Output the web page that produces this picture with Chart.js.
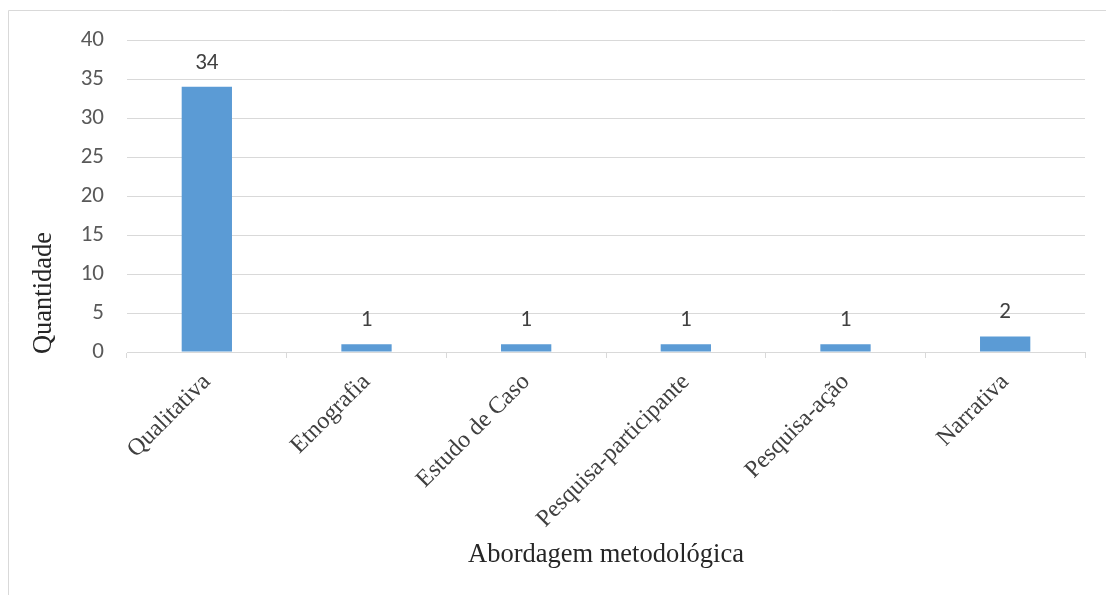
<!DOCTYPE html>
<html>
<head>
<meta charset="utf-8">
<script src="https://cdn.jsdelivr.net/npm/chart.js@4.4.1/dist/chart.umd.min.js"></script>
<style>
  html, body { margin: 0; padding: 0; background: #ffffff; }
  #wrap { position: relative; width: 1106px; height: 595px; }
</style>
</head>
<body>
<div id="wrap"><canvas id="chart" width="1106" height="595"></canvas></div>
<script>
// Categories and counts per methodological approach
const categories = ['Qualitativa', 'Etnografia', 'Estudo de Caso', 'Pesquisa-participante', 'Pesquisa-ação', 'Narrativa'];
const quantidade = [34, 1, 1, 1, 1, 2];
const yTicks = [0, 5, 10, 15, 20, 25, 30, 35, 40];
const yTitle = 'Quantidade';
const xTitle = 'Abordagem metodológica';

const GRID = '#d9d9d9';
const SANS = "Carlito, 'Open Sans', 'Liberation Sans', sans-serif";
const SERIF = "'Liberation Serif', 'Times New Roman', serif";

// Outer frame, value labels and axis titles
const decor = {
  id: 'decor',
  beforeDraw(chart) {
    const ctx = chart.ctx;
    ctx.save();
    ctx.strokeStyle = GRID;
    ctx.lineWidth = 1;
    ctx.beginPath();
    ctx.moveTo(8.5, chart.height);
    ctx.lineTo(8.5, 10.5);
    ctx.lineTo(chart.width, 10.5);
    ctx.stroke();
    ctx.restore();
  },
  afterDatasetsDraw(chart) {
    const ctx = chart.ctx;
    const meta = chart.getDatasetMeta(0);
    const values = chart.data.datasets[0].data;
    ctx.save();
    ctx.fillStyle = '#404040';
    ctx.font = '23px ' + SANS;
    ctx.textAlign = 'center';
    ctx.textBaseline = 'alphabetic';
    meta.data.forEach((bar, i) => {
      ctx.fillText(String(values[i]), bar.x, bar.y - 18);
    });
    ctx.restore();
  },
  afterDraw(chart) {
    const ctx = chart.ctx;
    const area = chart.chartArea;
    ctx.save();
    ctx.fillStyle = '#262626';
    ctx.font = '26.5px ' + SERIF;
    ctx.textAlign = 'center';
    ctx.textBaseline = 'middle';
    ctx.fillText(xTitle, (area.left + area.right) / 2, 555);
    ctx.translate(44, 293);
    ctx.rotate(-Math.PI / 2);
    ctx.fillText(yTitle, 0, 0);
    ctx.restore();
  }
};

new Chart(document.getElementById('chart'), {
  type: 'bar',
  data: {
    labels: categories,
    datasets: [{
      data: quantidade,
      backgroundColor: '#5b9bd5',
      borderWidth: 0,
      categoryPercentage: 1,
      barPercentage: 0.315
    }]
  },
  options: {
    responsive: false,
    animation: false,
    devicePixelRatio: 1,
    layout: { padding: { top: 40, right: 21, left: 0, bottom: 0 } },
    plugins: {
      legend: { display: false },
      tooltip: { enabled: false }
    },
    scales: {
      x: {
        offset: true,
        grid: {
          display: true,
          drawOnChartArea: false,
          drawTicks: true,
          tickLength: 6,
          color: GRID,
          offset: true
        },
        border: { display: true, color: GRID, width: 1 },
        ticks: {
          color: '#404040',
          font: { family: SERIF, size: 24 },
          minRotation: 45,
          maxRotation: 45,
          padding: 10,
          autoSkip: false
        },
        afterFit(scale) { scale.height = 595 - 352; }
      },
      y: {
        min: 0,
        max: 40,
        afterBuildTicks(scale) { scale.ticks = yTicks.map(v => ({ value: v })); },
        grid: { color: GRID, drawTicks: false, lineWidth: 1 },
        border: { display: false },
        ticks: {
          color: '#595959',
          font: { family: SANS, size: 23 },
          padding: 23
        },
        afterFit(scale) { scale.width = 127; }
      }
    }
  },
  plugins: [decor]
});
</script>
</body>
</html>
